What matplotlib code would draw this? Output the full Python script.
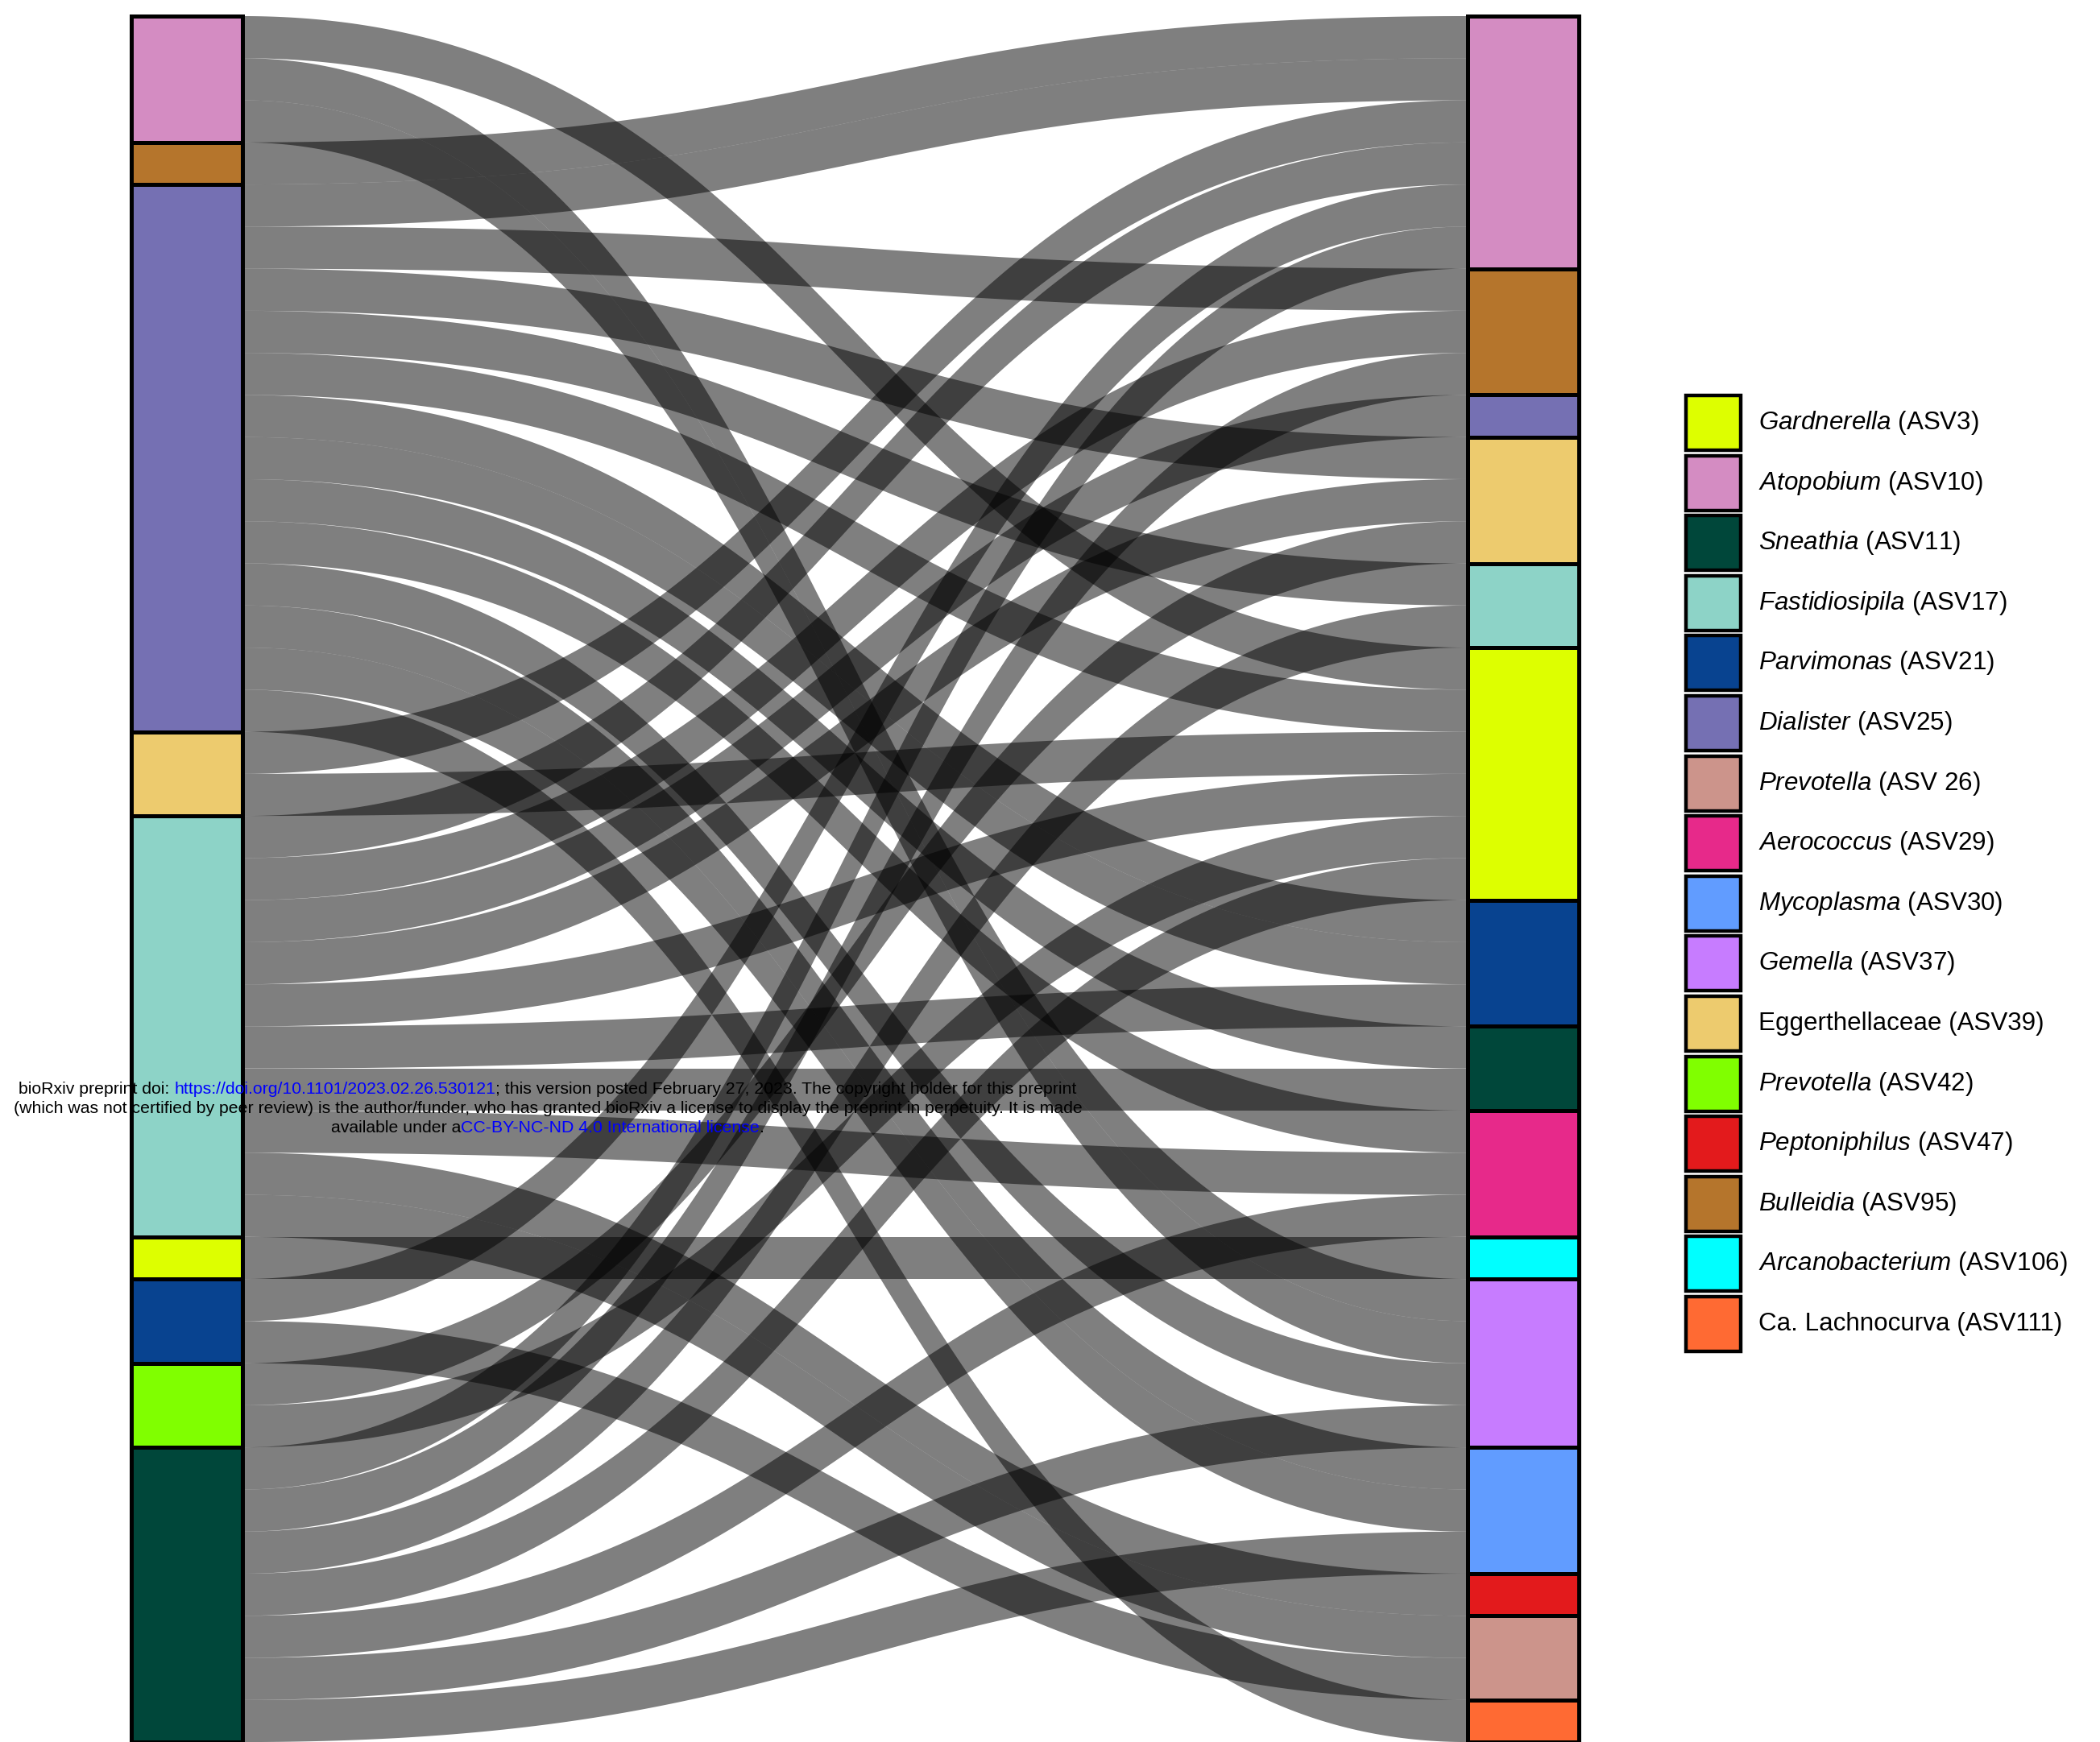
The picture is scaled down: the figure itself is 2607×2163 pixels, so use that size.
import numpy as np
import matplotlib
matplotlib.use("Agg")
import matplotlib.pyplot as plt
from matplotlib.patches import Rectangle

# ---- strata (top to bottom) -------------------------------------------
left_strata = ["Atopobium", "Bulleidia", "Dialister", "Eggerthellaceae",
               "Fastidiosipila", "Gardnerella", "Parvimonas", "Prevotella42",
               "Sneathia"]
right_strata = ["Atopobium", "Bulleidia", "Dialister", "Eggerthellaceae",
                "Fastidiosipila", "Gardnerella", "Parvimonas", "Sneathia",
                "Aerococcus", "Arcanobacterium", "Gemella", "Mycoplasma",
                "Peptoniphilus", "Prevotella26", "Lachnocurva"]

# number of alluvia from each left stratum (rows) to each right stratum (cols)
flow_counts = [
    # At Bu Di Eg Fa Ga Pa Sn Ae Ar Ge My Pe Pr La
    [0, 0, 0, 0, 0, 1, 0, 0, 0, 0, 2, 0, 0, 0, 0],   # Atopobium
    [1, 0, 0, 0, 0, 0, 0, 0, 0, 0, 0, 0, 0, 0, 0],   # Bulleidia
    [1, 1, 0, 1, 1, 1, 2, 1, 1, 0, 1, 2, 0, 0, 1],   # Dialister
    [1, 0, 0, 0, 0, 1, 0, 0, 0, 0, 0, 0, 0, 0, 0],   # Eggerthellaceae
    [1, 1, 1, 1, 0, 1, 1, 1, 1, 0, 0, 0, 1, 1, 0],   # Fastidiosipila
    [0, 0, 0, 0, 0, 0, 0, 0, 0, 1, 0, 0, 0, 0, 0],   # Gardnerella
    [1, 0, 0, 0, 0, 0, 0, 0, 0, 0, 0, 0, 0, 1, 0],   # Parvimonas
    [0, 0, 0, 1, 0, 1, 0, 0, 0, 0, 0, 0, 0, 0, 0],   # Prevotella42
    [1, 1, 0, 0, 1, 1, 0, 0, 1, 0, 1, 1, 0, 0, 0],   # Sneathia
]

colors = {
    "Gardnerella": "#DDFF00", "Atopobium": "#D48CC2", "Sneathia": "#00473A",
    "Fastidiosipila": "#8DD3C7", "Parvimonas": "#084390", "Dialister": "#7570B3",
    "Prevotella26": "#CC948B", "Aerococcus": "#E7298A", "Mycoplasma": "#619CFF",
    "Gemella": "#C77CFF", "Eggerthellaceae": "#EDCB6E", "Prevotella42": "#80FF00",
    "Peptoniphilus": "#E31A1C", "Bulleidia": "#B5752C",
    "Arcanobacterium": "#00FFFF", "Lachnocurva": "#FF6A33",
}

legend_keys = ["Gardnerella", "Atopobium", "Sneathia", "Fastidiosipila",
               "Parvimonas", "Dialister", "Prevotella26", "Aerococcus",
               "Mycoplasma", "Gemella", "Eggerthellaceae", "Prevotella42",
               "Peptoniphilus", "Bulleidia", "Arcanobacterium", "Lachnocurva"]
legend_labels = [r"$\mathit{Gardnerella}$ (ASV3)", r"$\mathit{Atopobium}$ (ASV10)",
                 r"$\mathit{Sneathia}$ (ASV11)", r"$\mathit{Fastidiosipila}$ (ASV17)",
                 r"$\mathit{Parvimonas}$ (ASV21)", r"$\mathit{Dialister}$ (ASV25)",
                 r"$\mathit{Prevotella}$ (ASV 26)", r"$\mathit{Aerococcus}$ (ASV29)",
                 r"$\mathit{Mycoplasma}$ (ASV30)", r"$\mathit{Gemella}$ (ASV37)",
                 "Eggerthellaceae (ASV39)", r"$\mathit{Prevotella}$ (ASV42)",
                 r"$\mathit{Peptoniphilus}$ (ASV47)", r"$\mathit{Bulleidia}$ (ASV95)",
                 r"$\mathit{Arcanobacterium}$ (ASV106)", "Ca. Lachnocurva (ASV111)"]

# ---- fonts --------------------------------------------------------------
plt.rcParams["font.family"] = ["Liberation Sans", "DejaVu Sans"]
plt.rcParams["mathtext.fontset"] = "custom"
plt.rcParams["mathtext.rm"] = "Liberation Sans"
plt.rcParams["mathtext.it"] = "Liberation Sans:italic"

# ---- canvas / layout (pixels) ------------------------------------------
W, H = 2607, 2163
x_in_left, x_in_right = 301.0, 1822.0       # inner edges of the two axes
node_w = 138.0
y_top, unit = 20.0, 52.27
span = x_in_right - x_in_left

fig = plt.figure(figsize=(W / 100, H / 100), dpi=100)
fig.patch.set_facecolor("white")
ax = fig.add_axes([0, 0, 1, 1])
ax.set_xlim(-x_in_left / span, (W - x_in_left) / span)
ax.set_ylim((H - y_top) / unit, -y_top / unit)
ax.axis("off")

counts = np.array(flow_counts)
left_tot = counts.sum(axis=1)
right_tot = counts.sum(axis=0)
left_start = np.concatenate([[0], np.cumsum(left_tot)[:-1]])
right_start = np.concatenate([[0], np.cumsum(right_tot)[:-1]])

# lode positions: inside a left stratum ordered by right stratum,
# inside a right stratum ordered by left stratum
links = []
left_fill = left_start.copy()
for i in range(len(left_strata)):
    for j in range(len(right_strata)):
        for _ in range(counts[i, j]):
            links.append([i, j, left_fill[i], None])
            left_fill[i] += 1
right_fill = right_start.copy()
for j in range(len(right_strata)):
    for lk in sorted([l for l in links if l[1] == j], key=lambda l: l[2]):
        lk[3] = right_fill[j]
        right_fill[j] += 1

t = np.linspace(0, 1, 300)
xs = 1.5 * t * (1 - t) + t ** 3           # cubic Bezier, control points at mid-width
ease = 3 * t ** 2 - 2 * t ** 3
for _, _, yl, yr in links:
    ytop = yl + (yr - yl) * ease
    ax.fill_between(xs, ytop, ytop + 1, facecolor="black", alpha=0.5,
                    linewidth=0, zorder=1)

nw = node_w / span
for i, name in enumerate(left_strata):
    ax.add_patch(Rectangle((-nw, left_start[i]), nw, left_tot[i],
                           facecolor=colors[name], edgecolor="black",
                           linewidth=3.6, zorder=3))
for j, name in enumerate(right_strata):
    ax.add_patch(Rectangle((1.0, right_start[j]), nw, right_tot[j],
                           facecolor=colors[name], edgecolor="black",
                           linewidth=3.6, zorder=3))

# ---- legend ---------------------------------------------------------------
lg = fig.add_axes([0, 0, 1, 1])
lg.set_xlim(0, W)
lg.set_ylim(H, 0)
lg.axis("off")
lg.patch.set_alpha(0)
box_x, box_y0, box_s, box_step = 2093, 491, 68, 74.6
for k, (key, lab) in enumerate(zip(legend_keys, legend_labels)):
    y = box_y0 + k * box_step
    lg.add_patch(Rectangle((box_x, y), box_s, box_s, facecolor=colors[key],
                           edgecolor="black", linewidth=3.2))
    lg.text(2183, y + box_s / 2, lab, fontsize=22.6, va="center", ha="left")

# ---- preprint notice --------------------------------------------------------
renderer = fig.canvas.get_renderer()
blue = "#0000FF"
notice = [
    [("bioRxiv preprint doi: ", "black"),
     ("https://doi.org/10.1101/2023.02.26.530121", blue),
     ("; this version posted February 27, 2023. The copyright holder for this preprint", "black")],
    [("(which was not certified by peer review) is the author/funder, who has granted "
      "bioRxiv a license to display the preprint in perpetuity. It is made", "black")],
    [("available under a", "black"),
     ("CC-BY-NC-ND 4.0 International license", blue), (".", "black")],
]
line_y = [1353, 1377, 1400]
x_center = 680
fs = 15.3
for segs, yy in zip(notice, line_y):
    widths = []
    for s, c in segs:
        tt = lg.text(0, 0, s, fontsize=fs)
        widths.append(tt.get_window_extent(renderer).width)
        tt.remove()
    x = x_center - sum(widths) / 2
    for (s, c), w in zip(segs, widths):
        lg.text(x, yy, s, fontsize=fs, color=c, va="center", ha="left", zorder=10)
        x += w

fig.savefig("out.png", dpi=100, facecolor="white")
